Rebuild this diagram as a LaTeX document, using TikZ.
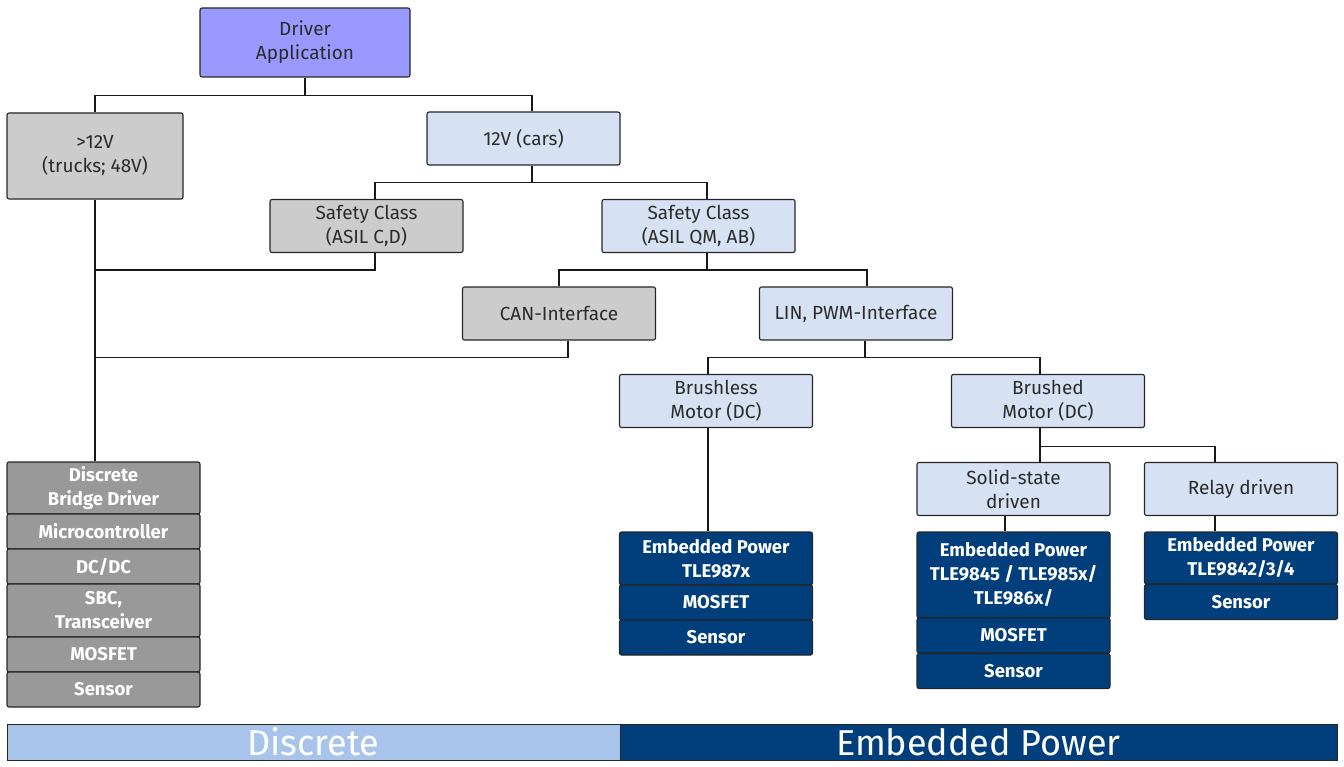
\documentclass[tikz,border=0pt]{standalone}
\usepackage{fontspec}
\setmainfont{Fira Sans}
\usetikzlibrary{calc}

\definecolor{drvblue}{HTML}{9999FF}
\definecolor{boxgray}{HTML}{CCCCCC}
\definecolor{stackgray}{HTML}{999999}
\definecolor{paleblue}{HTML}{D6E1F3}
\definecolor{epblue}{HTML}{003F7B}
\definecolor{discblue}{HTML}{A9C4EA}
\definecolor{txtgray}{HTML}{2B2B2B}

\tikzset{
  box/.style={draw=black!85, line width=1.1pt, rounded corners=2pt, align=center,
    inner sep=0pt, minimum width=193, minimum height=53, text=txtgray,
    font=\fontsize{19}{24}\selectfont},
  graybox/.style={box, fill=boxgray},
  bluebox/.style={box, fill=paleblue},
  stackbox/.style={box, fill=stackgray, text=white, minimum height=35,
    font=\fontsize{18.5}{24}\selectfont\bfseries},
  epbox/.style={stackbox, fill=epblue},
  banner/.style={draw=black!85, line width=1pt, inner sep=0pt, minimum height=36,
    text=white, font=\fontsize{36}{36}\selectfont},
  wire/.style={line width=1.1pt, black!90},
}

\begin{document}
\begin{tikzpicture}[x=1pt, y=-1pt]
\useasboundingbox (0,0) rectangle (1344,767);

% Top of the tree
\node[box, fill=drvblue, minimum width=210, minimum height=69] (drv) at (305,42.5) {Driver\\Application};
\node[graybox, minimum width=176, minimum height=86] (hv) at (95,156) {>12V\\(trucks; 48V)};
\node[bluebox] (car) at (523.5,138.5) {12V (cars)};

% Safety classes
\node[graybox] (sfcd) at (366.5,226) {Safety Class\\(ASIL C,D)};
\node[bluebox] (sfqm) at (698.5,226) {Safety Class\\(ASIL QM, AB)};

% Interfaces
\node[graybox] (can) at (559,313.5) {CAN-Interface};
\node[bluebox] (lin) at (856,313.5) {LIN, PWM-Interface};

% Motors
\node[bluebox] (bldc) at (716,401) {Brushless\\Motor (DC)};
\node[bluebox] (bdc) at (1048,401) {Brushed\\Motor (DC)};
\node[bluebox] (solid) at (1013.5,489) {Solid-state\\driven};
\node[bluebox] (relay) at (1241,489) {Relay driven};

% Discrete stack
\node[stackbox, minimum height=52] (bridge) at (103.5,488) {Discrete\\Bridge Driver};
\node[stackbox] (mcu) at (103.5,531.5) {Microcontroller};
\node[stackbox] (dcdc) at (103.5,566.5) {DC/DC};
\node[stackbox, minimum height=53] (sbc) at (103.5,610.5) {SBC,\\Transceiver};
\node[stackbox] (mosA) at (103.5,654.5) {MOSFET};
\node[stackbox] (senA) at (103.5,689.5) {Sensor};

% Embedded Power stacks
\node[epbox, minimum height=53] (epA) at (716,558.5) {Embedded Power\\TLE987x};
\node[epbox] (mosB) at (716,602.5) {MOSFET};
\node[epbox] (senB) at (716,637.5) {Sensor};

\node[epbox, minimum height=86] (epB) at (1013.5,575) {Embedded Power\\TLE9845 / TLE985x/\\TLE986x/};
\node[epbox] (mosC) at (1013.5,635.5) {MOSFET};
\node[epbox] (senC) at (1013.5,671) {Sensor};

\node[epbox, minimum height=52] (epC) at (1241,558) {Embedded Power\\TLE9842/3/4};
\node[epbox] (senD) at (1241,602) {Sensor};

% Connectors
\draw[wire] (drv.south) -- ++(0,18) -| (hv.north);
\draw[wire] (drv.south) -- ++(0,18) -| ([xshift=8.5]car.north);
\draw[wire] ([xshift=8.5]car.south) -- ++(0,17) -| ([xshift=8.5]sfcd.north);
\draw[wire] ([xshift=8.5]car.south) -- ++(0,17) -| ([xshift=8.5]sfqm.north);
\draw[wire] (hv.south) -- (hv.south |- bridge.north);
\draw[wire] ([xshift=8.5]sfcd.south) -- ++(0,17) -| (hv.south);
\draw[wire] ([xshift=8.5]sfqm.south) -- ++(0,17) -| (can.north);
\draw[wire] ([xshift=8.5]sfqm.south) -- ++(0,17) -| ([xshift=11]lin.north);
\draw[wire] ([xshift=9]can.south) -- ++(0,17) -| (hv.south);
\draw[wire] ([xshift=9]lin.south) -- ++(0,17) -| ([xshift=-8]bldc.north);
\draw[wire] ([xshift=9]lin.south) -- ++(0,17) -| ([xshift=-8]bdc.north);
\draw[wire] ([xshift=-8]bldc.south) -- ([xshift=-8]bldc.south |- epA.north);
\draw[wire] ([xshift=-8]bdc.south) -- ([xshift=-8]bdc.south |- solid.north);
\draw[wire] ([xshift=-8]bdc.south) -- ++(0,18) -| ([xshift=-26]relay.north);
\draw[wire] ([xshift=-8.5]solid.south) -- ([xshift=-8.5]solid.south |- epB.north);
\draw[wire] ([xshift=-26]relay.south) -- ([xshift=-26]relay.south |- epC.north);

% Bottom banner
\node[banner, fill=discblue, minimum width=613] (disc) at (313.5,742) {\raisebox{-2pt}{Discrete}};
\node[banner, fill=epblue, minimum width=717] (embp) at (978.5,742) {\raisebox{-2pt}{Embedded Power}};
\end{tikzpicture}
\end{document}
